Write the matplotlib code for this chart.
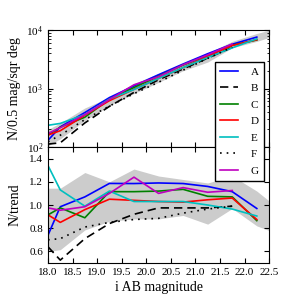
import numpy as np
import matplotlib
matplotlib.use("Agg")
import matplotlib.pyplot as plt
import matplotlib.ticker as ticker

plt.rcParams['font.family'] = ['Liberation Serif', 'DejaVu Serif']
plt.rcParams['mathtext.fontset'] = 'stix'

# magnitude bins
mag = [18.0, 18.25, 18.75, 19.25, 19.75, 20.25, 20.75, 21.25, 21.75, 22.25]
mag_band = [18.0, 18.25, 18.75, 19.25, 19.75, 20.25, 20.75, 21.25, 21.75, 22.25, 22.75]

labels = ['A', 'B', 'C', 'D', 'E', 'F', 'G']

# counts per 0.5 mag per sq deg (top panel)
counts_a = [130, 221, 388, 699, 1106, 1720, 2622, 3930, 5719, 7566]
counts_b = [112, 118, 258, 495, 858, 1409, 2158, 3303, 5078]
counts_c = [160, 218, 323, 657, 1040, 1618, 2512, 3642, 5488, 6747]
counts_d = [160, 190, 349, 619, 970, 1488, 2268, 3541, 5437, 6825]
counts_e = [235, 253, 359, 660, 961, 1488, 2279, 3388, 4950, 7059]
counts_f = [123, 159, 294, 501, 816, 1279, 2058, 3269, 5078]
counts_g = [171, 214, 358, 648, 1157, 1590, 2545, 3761, 5770]
counts_band_lo = [105, 138, 285, 507, 821, 1272, 2014, 2829, 4975, 6396, 8695]
counts_band_hi = [200, 257, 465, 707, 1222, 1806, 2700, 4032, 6411, 8736, 11163]

# N / trend (bottom panel)
ratio_a = [0.74, 0.985, 1.07, 1.186, 1.185, 1.19, 1.185, 1.16, 1.115, 0.97]
ratio_b = [0.64, 0.525, 0.71, 0.84, 0.92, 0.975, 0.975, 0.975, 0.99]
ratio_c = [0.915, 0.975, 0.89, 1.115, 1.115, 1.12, 1.135, 1.075, 1.07, 0.865]
ratio_d = [0.915, 0.85, 0.96, 1.05, 1.04, 1.03, 1.025, 1.045, 1.06, 0.875]
ratio_e = [1.34, 1.13, 0.99, 1.12, 1.03, 1.03, 1.03, 1.0, 0.965, 0.905]
ratio_f = [0.70, 0.71, 0.81, 0.85, 0.875, 0.885, 0.93, 0.965, 0.99]
ratio_g = [0.975, 0.955, 0.985, 1.10, 1.24, 1.10, 1.15, 1.11, 1.125]
ratio_band_lo = [0.60, 0.615, 0.785, 0.86, 0.88, 0.88, 0.91, 0.835, 0.97, 0.82, 0.74]
ratio_band_hi = [1.145, 1.145, 1.28, 1.2, 1.31, 1.25, 1.22, 1.19, 1.25, 1.12, 0.95]

counts = [counts_a, counts_b, counts_c, counts_d, counts_e, counts_f, counts_g]
ratios = [ratio_a, ratio_b, ratio_c, ratio_d, ratio_e, ratio_f, ratio_g]

styles = [
    dict(color='b'),
    dict(color='k', dashes=(5, 3)),
    dict(color='g'),
    dict(color='r'),
    dict(color='c'),
    dict(color='k', dashes=(1, 3)),
    dict(color='m'),
]

fig = plt.figure(figsize=(3, 3), dpi=100)
ax_top = fig.add_axes([0.16, 0.51, 0.737, 0.39])
ax_bot = fig.add_axes([0.16, 0.1233, 0.737, 0.3867])

ax_top.fill_between(mag_band, counts_band_lo, counts_band_hi, color='0.8', lw=0)
ax_bot.fill_between(mag_band, ratio_band_lo, ratio_band_hi, color='0.8', lw=0)

handles = []
for lab, c, r, st in zip(labels, counts, ratios, styles):
    h, = ax_top.plot(mag[:len(c)], c, lw=1.2, label=lab, **st)
    ax_bot.plot(mag[:len(r)], r, lw=1.2, **st)
    handles.append(h)

ax_top.set_yscale('log')
ax_top.set_ylim(100, 1e4)
ax_bot.set_ylim(0.5, 1.5)
for ax in (ax_top, ax_bot):
    ax.set_xlim(18.0, 22.5)
    ax.xaxis.set_major_locator(ticker.MultipleLocator(0.5))
    ax.tick_params(which='both', direction='in', top=True, right=True, labelsize=8)
    ax.tick_params(which='major', length=3.5)
    ax.tick_params(which='minor', length=1.8)

ax_top.tick_params(labelbottom=False)
ax_bot.yaxis.set_major_locator(ticker.FixedLocator([0.6, 0.8, 1.0, 1.2, 1.4]))
ax_bot.xaxis.set_major_formatter(ticker.FormatStrFormatter('%.1f'))
ax_bot.yaxis.set_major_formatter(ticker.FormatStrFormatter('%.1f'))

ax_top.set_ylabel('N/0.5 mag/sqr deg', fontsize=10)
ax_bot.set_ylabel('N/trend', fontsize=10)
ax_bot.set_xlabel('i AB magnitude', fontsize=10, labelpad=3)
ax_top.yaxis.set_label_coords(-0.12, 0.5)
ax_bot.yaxis.set_label_coords(-0.12, 0.5)

leg = fig.legend(handles=handles, loc='upper right', bbox_to_anchor=(0.88, 0.793),
                 borderaxespad=0, fontsize=8, frameon=True, fancybox=False,
                 framealpha=1, edgecolor='k', handlelength=1.6, handletextpad=1.2,
                 labelspacing=0.6, borderpad=0.45)
leg.get_frame().set_linewidth(1.0)

fig.savefig('out.png', dpi=100)
